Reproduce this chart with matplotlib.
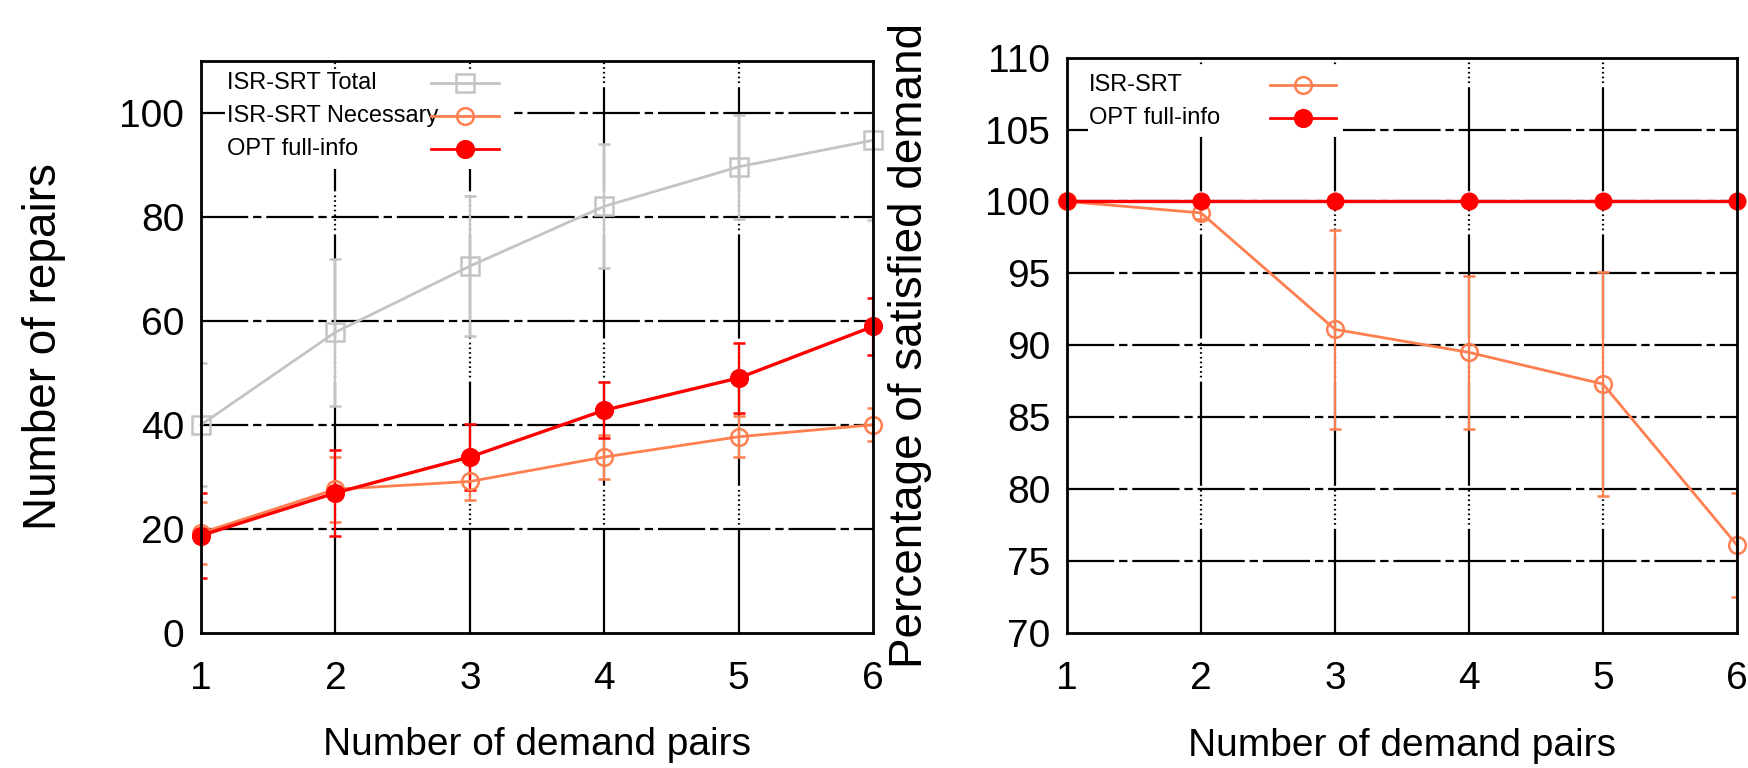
import matplotlib
matplotlib.use('Agg')
import matplotlib.pyplot as plt
from matplotlib import font_manager
from matplotlib.lines import Line2D
from matplotlib.patches import Rectangle

plt.rcParams['lines.scale_dashes'] = False
plt.rcParams['font.family'] = ['Liberation Sans', 'DejaVu Sans']

# demand pairs on the x axis
pairs = [1, 2, 3, 4, 5, 6]

# left panel: number of repairs
total_mean = [40.0, 57.8, 70.5, 82.0, 89.6, 94.7]
total_err = [11.8, 14.1, 13.5, 11.9, 10.0, 15.4]
necessary_mean = [19.2, 27.6, 29.1, 33.8, 37.7, 40.0]
necessary_err = [6.0, 6.2, 3.6, 4.2, 3.9, 3.2]
opt_mean = [18.7, 26.9, 33.8, 42.8, 49.0, 58.9]
opt_err = [8.2, 8.2, 6.3, 5.4, 6.7, 5.4]

# right panel: percentage of satisfied demand
isr_pct = [100.0, 99.2, 91.1, 89.5, 87.3, 76.1]
isr_pct_err = [0.0, 0.4, 6.9, 5.3, 7.8, 3.6]
opt_pct = [100, 100, 100, 100, 100, 100]

GRAY = '#c4c4c4'
CORAL = '#ff7f50'
RED = '#ff0000'

HGRID = (0, (34, 3.5, 6, 3.5))
VGRID = (0, (75, 3, 1.2, 2.2, 1.2, 2.2, 1.2, 2.2, 1.2, 2.2, 1.2, 2.2, 1.2, 2.2,
             1.2, 2.2, 1.2, 3))

installed = {f.name for f in font_manager.fontManager.ttflist}
if 'Liberation Sans Narrow' in installed:
    KEY_FONT = dict(family='Liberation Sans Narrow', size=20)
else:
    KEY_FONT = dict(family='Liberation Sans', size=17)

fig = plt.figure(figsize=(17.48, 7.68), dpi=100)
ax1 = fig.add_axes([0.115, 0.176, 0.3845, 0.745])
ax2 = fig.add_axes([0.6104, 0.176, 0.3833, 0.749])


def style_axes(ax, yticks, ylim, ylabel):
    ax.set_xlim(1, 6)
    ax.set_ylim(*ylim)
    ax.set_xticks(pairs)
    ax.set_yticks(yticks)
    for y in yticks:
        if ylim[0] < y < ylim[1]:
            ax.axhline(y, color='black', lw=1.6, ls=HGRID, zorder=1)
    for x in pairs[1:-1]:
        ax.axvline(x, color='black', lw=1.6, ls=VGRID, zorder=1)
    for s in ax.spines.values():
        s.set_linewidth(2.0)
        s.set_zorder(6)
    ax.tick_params(direction='in', length=0, labelsize=28,
                   top=False, right=False)
    ax.tick_params(axis='x', pad=20)
    ax.tick_params(axis='y', pad=12)
    ax.set_xlabel('Number of demand pairs', fontsize=28)
    ax.xaxis.set_label_coords(0.5, -0.196)
    ax.xaxis.label.set_va('center')
    ax.set_ylabel(ylabel, fontsize=33)
    ax.yaxis.set_label_coords(-0.234, 0.5)
    ax.yaxis.label.set_va('center')


def series(ax, x, y, err, color, marker, mfc, lw=2.0, ms=12):
    line, caps, bars = ax.errorbar(
        x, y, yerr=err, color=color, lw=lw, marker=marker, ms=ms,
        mfc=mfc, mec=color, mew=1.8, capsize=4, elinewidth=1.6,
        capthick=1.6, zorder=4)
    line.set_clip_on(False)


def key(ax, entries, tx, x0, x1, rows, box):
    # gnuplot-style key: label on the left, line sample on the right
    bx0, by0, bx1, by1 = box
    ax.add_patch(Rectangle((bx0, by0), bx1 - bx0, by1 - by0,
                           transform=ax.transAxes, facecolor='white',
                           edgecolor='none', zorder=3))
    for (label, color, marker, mfc, ms), ty in zip(entries, rows):
        ax.text(tx, ty, label, transform=ax.transAxes, ha='left',
                va='center', color='black', zorder=5, **KEY_FONT)
        ax.add_line(Line2D([x0, x1], [ty, ty], transform=ax.transAxes,
                           color=color, lw=2.0, zorder=5))
        ax.add_line(Line2D([(x0 + x1) / 2], [ty], transform=ax.transAxes,
                           color=color, marker=marker, ms=ms, mfc=mfc,
                           mec=color, mew=1.8, zorder=5))


# ── left: repairs ─────────────────────────────────────────
style_axes(ax1, [0, 20, 40, 60, 80, 100], (0, 110), 'Number of repairs')
series(ax1, pairs, total_mean, total_err, GRAY, 's', 'none', ms=13)
series(ax1, pairs, necessary_mean, necessary_err, CORAL, 'o', 'none')
series(ax1, pairs, opt_mean, opt_err, RED, 'o', RED, lw=2.4)

key(ax1, [('ISR-SRT Total', GRAY, 's', 'none', 13),
          ('ISR-SRT Necessary', CORAL, 'o', 'none', 12),
          ('OPT full-info', RED, 'o', RED, 12)],
    tx=0.038, x0=0.342, x1=0.443, rows=[0.961, 0.904, 0.846],
    box=(0.036, 0.811, 0.46, 0.985))

# ── right: satisfied demand ───────────────────────────────
style_axes(ax2, [70, 75, 80, 85, 90, 95, 100, 105, 110], (70, 110),
           'Percentage of satisfied demand')
series(ax2, pairs, isr_pct, isr_pct_err, CORAL, 'o', 'none')
ln = ax2.plot(pairs, opt_pct, color=RED, lw=2.4, marker='o', ms=12,
              zorder=5)[0]
ln.set_clip_on(False)

key(ax2, [('ISR-SRT', CORAL, 'o', 'none', 12),
          ('OPT full-info', RED, 'o', RED, 12)],
    tx=0.033, x0=0.303, x1=0.401, rows=[0.953, 0.895],
    box=(0.031, 0.862, 0.412, 0.985))

fig.savefig('out.png', dpi=100, facecolor='white')
